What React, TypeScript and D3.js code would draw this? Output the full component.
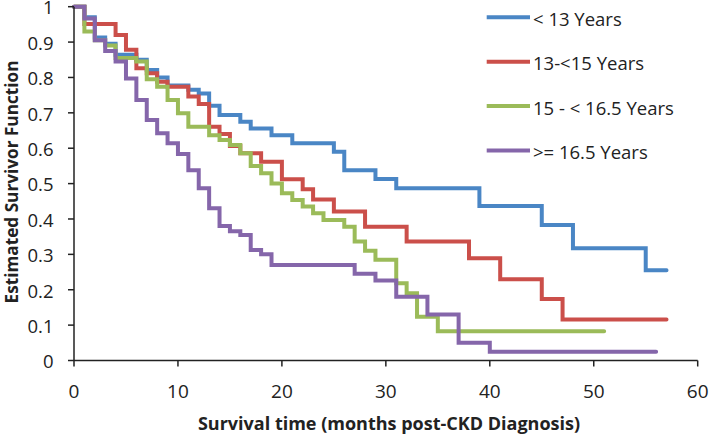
import React from 'react';
import * as d3 from 'd3';

const W = 709;
const H = 437;

const seriesNames = ['< 13 Years', '13-<15 Years', '15 - < 16.5 Years', '>= 16.5 Years'];
const seriesColors = ['#4A86C5', '#CB4F4A', '#9BBB59', '#8566AA'];

const blueTimes = [0, 1, 2, 3, 4, 6, 7, 8, 9, 11, 12, 13, 14, 16, 17, 19, 21, 25, 26, 29, 31, 39, 45, 48, 55, 57];
const blueValues = [1, 0.97, 0.913, 0.895, 0.864, 0.85, 0.821, 0.8, 0.777, 0.765, 0.755, 0.72, 0.694, 0.675, 0.656, 0.637, 0.614, 0.59, 0.538, 0.513, 0.487, 0.437, 0.383, 0.317, 0.255, 0.255];

const redTimes = [0, 1, 4, 5, 6, 7, 8, 9, 11, 12, 13, 14, 15, 16, 18, 20, 22, 23, 25, 28, 32, 38, 41, 45, 47, 57];
const redValues = [1, 0.951, 0.92, 0.878, 0.826, 0.812, 0.788, 0.774, 0.746, 0.725, 0.661, 0.64, 0.606, 0.586, 0.562, 0.512, 0.484, 0.455, 0.421, 0.378, 0.336, 0.289, 0.23, 0.174, 0.116, 0.116];

const greenTimes = [0, 1, 2, 3, 4, 6, 7, 8, 9, 10, 11, 13, 14, 15, 16, 17, 18, 19, 20, 21, 22, 23, 24, 26, 27, 28, 29, 31, 32, 33, 35, 51];
const greenValues = [1, 0.93, 0.905, 0.89, 0.855, 0.845, 0.795, 0.774, 0.736, 0.699, 0.661, 0.637, 0.623, 0.609, 0.586, 0.55, 0.529, 0.5, 0.473, 0.454, 0.435, 0.416, 0.397, 0.378, 0.336, 0.31, 0.285, 0.218, 0.19, 0.124, 0.083, 0.083];

const purpleTimes = [0, 1, 2, 3, 4, 5, 6, 7, 8, 9, 10, 11, 12, 13, 14, 15, 16, 17, 18, 19, 27, 29, 31, 34, 37, 40, 56];
const purpleValues = [1, 0.967, 0.905, 0.875, 0.845, 0.797, 0.736, 0.68, 0.642, 0.614, 0.584, 0.538, 0.487, 0.43, 0.38, 0.365, 0.355, 0.312, 0.3, 0.27, 0.245, 0.226, 0.18, 0.13, 0.05, 0.025, 0.025];

const xTicks = [0, 10, 20, 30, 40, 50, 60];
const yTicks = [0, 0.1, 0.2, 0.3, 0.4, 0.5, 0.6, 0.7, 0.8, 0.9, 1];
const xTitle = 'Survival time (months post-CKD Diagnosis)';
const yTitle = 'Estimated Survivor Function';

const allSeries = [
  { times: blueTimes, values: blueValues },
  { times: redTimes, values: redValues },
  { times: greenTimes, values: greenValues },
  { times: purpleTimes, values: purpleValues },
];

const FONT = '"Open Sans", "Liberation Sans", sans-serif';

export default function App() {
  const x = d3.scaleLinear().domain([0, 60]).range([74, 697.7]);
  const y = d3.scaleLinear().domain([0, 1]).range([360.5, 6.7]);
  const line = d3
    .line<[number, number]>()
    .x((d) => x(d[0]))
    .y((d) => y(d[1]))
    .curve(d3.curveStepAfter);

  const legendX0 = 486.7;
  const legendX1 = 530;
  const legendY = d3.scaleLinear().domain([0, 1]).range([17.3, 61.7]);

  return (
    <svg
      width={W}
      height={H}
      style={{ position: 'absolute', left: 0, top: 0, background: '#fff' }}
      fontFamily={FONT}
    >
      <rect x={0} y={0} width={W} height={H} fill="#fff" />
      {allSeries.map((s, i) => (
        <path
          key={i}
          d={line(s.times.map((t, j) => [t, s.values[j]] as [number, number])) || ''}
          fill="none"
          stroke={seriesColors[i]}
          strokeWidth={4}
          strokeLinejoin="miter"
          strokeLinecap="round"
        />
      ))}
      <line x1={x(0)} x2={x(60)} y1={y(0)} y2={y(0)} stroke="#222" strokeWidth={1.5} />
      <line x1={x(0)} x2={x(0)} y1={y(0)} y2={y(1)} stroke="#222" strokeWidth={1.5} />
      {xTicks.map((t) => (
        <g key={'xt' + t}>
          <line x1={x(t)} x2={x(t)} y1={y(0)} y2={y(0) + 6} stroke="#222" strokeWidth={1.5} />
          <text x={x(t)} y={398} textAnchor="middle" fontSize={19} fill="#222">
            {t}
          </text>
        </g>
      ))}
      {yTicks.map((t) => (
        <g key={'yt' + t}>
          <line x1={x(0) - 6} x2={x(0)} y1={y(t)} y2={y(t)} stroke="#222" strokeWidth={1.5} />
          <text x={53.5} y={y(t)} dy="0.42em" textAnchor="end" fontSize={18.5} fill="#222">
            {String(t)}
          </text>
        </g>
      ))}
      <text x={389} y={430} textAnchor="middle" fontSize={18} fontWeight="bold" fill="#222">
        {xTitle}
      </text>
      <text
        transform={`translate(17.5, ${182}) rotate(-90)`}
        textAnchor="middle"
        fontSize={17.2}
        fontWeight="bold"
        fill="#222"
      >
        {yTitle}
      </text>
      {seriesNames.map((name, i) => (
        <g key={'lg' + i}>
          <line
            x1={legendX0}
            x2={legendX1}
            y1={legendY(i)}
            y2={legendY(i)}
            stroke={seriesColors[i]}
            strokeWidth={4}
          />
          <text x={533} y={legendY(i) + 8.7} fontSize={18.5} fill="#222">
            {name}
          </text>
        </g>
      ))}
    </svg>
  );
}
